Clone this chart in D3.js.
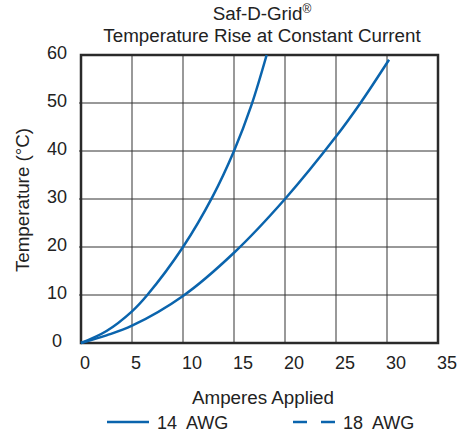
<!DOCTYPE html>
<html lang="en">
<head>
    <meta charset="UTF-8">
    <title>Saf-D-Grid Temperature Rise</title>
    <script src="https://d3js.org/d3.v7.min.js"></script>
    <style>
        body {
            margin: 0;
            background: #fff;
        }
        svg text {
            font-family: "Liberation Sans", Arial, sans-serif;
            fill: #222;
            white-space: pre;
        }
    </style>
</head>
<body>
<div id="chart"></div>
<script>
    // values
    const xTicks = [0, 5, 10, 15, 20, 25, 30, 35];
    const yTicks = [0, 10, 20, 30, 40, 50, 60];

    const awg14Amps = [0, 2.5, 5, 6.5, 10, 12.9, 15, 16.7, 18.2];
    const awg14Temp = [0, 2.5, 6.6, 10, 20, 30.5, 40, 49.5, 60];

    const awg18Amps = [0, 2.5, 5, 10, 15, 20, 25, 27.4, 30.2];
    const awg18Temp = [0, 1.6, 3.6, 9.8, 18.8, 30, 43, 50, 59];

    const seriesNames = ["14  AWG", "18  AWG"];

    const width = 459;
    const height = 435;
    const margin = {top: 55, right: 21, bottom: 92, left: 81};
    const blue = "#0a64ad";
    const fs = 18;
    const titleFs = 18.8;

    const svg = d3.select("#chart")
        .append("svg")
        .attr("width", width)
        .attr("height", height);

    const x = d3.scaleLinear().domain([0, 35]).range([margin.left, width - margin.right]);
    const y = d3.scaleLinear().domain([0, 60]).range([height - margin.bottom, margin.top]);

    // grid
    svg.append("g")
        .selectAll("line")
        .data(xTicks.slice(1, -1))
        .join("line")
        .attr("x1", d => x(d)).attr("x2", d => x(d))
        .attr("y1", y(0)).attr("y2", y(60))
        .attr("stroke", "#777")
        .attr("stroke-width", 1.5);

    svg.append("g")
        .selectAll("line")
        .data(yTicks.slice(1, -1))
        .join("line")
        .attr("x1", x(0) - 2).attr("x2", x(35))
        .attr("y1", d => y(d)).attr("y2", d => y(d))
        .attr("stroke", "#333")
        .attr("stroke-width", 1);

    // frame
    svg.append("rect")
        .attr("x", x(0)).attr("y", y(60))
        .attr("width", x(35) - x(0))
        .attr("height", y(0) - y(60))
        .attr("fill", "none")
        .attr("stroke", "#2a2a2a")
        .attr("stroke-width", 2.5);

    // tick labels
    svg.append("g")
        .selectAll("text")
        .data(yTicks)
        .join("text")
        .attr("x", 57)
        .attr("y", d => y(d) + 4)
        .attr("text-anchor", "middle")
        .attr("font-size", fs)
        .text(d => d);

    svg.append("g")
        .selectAll("text")
        .data(xTicks)
        .join("text")
        .attr("x", d => x(d) - 1)
        .attr("y", y(0) + 26)
        .attr("font-size", fs)
        .text(d => d);

    // curves
    const line = d3.line()
        .x(d => x(d[0]))
        .y(d => y(d[1]))
        .curve(d3.curveCatmullRom.alpha(0.5));

    const s14 = awg14Amps.map((a, i) => [a, awg14Temp[i]]);
    const s18 = awg18Amps.map((a, i) => [a, awg18Temp[i]]);

    [s14, s18].forEach(s => {
        svg.append("path")
            .datum(s)
            .attr("d", line)
            .attr("fill", "none")
            .attr("stroke", blue)
            .attr("stroke-width", 2.5);
    });

    // titles
    svg.append("text")
        .attr("x", 262).attr("y", 20)
        .attr("text-anchor", "middle")
        .attr("font-size", titleFs)
        .html("Saf-D-Grid<tspan dy='-7' font-size='12'>®</tspan>");

    svg.append("text")
        .attr("x", 262).attr("y", 42)
        .attr("text-anchor", "middle")
        .attr("font-size", titleFs)
        .text("Temperature Rise at Constant Current");

    svg.append("text")
        .attr("x", 263).attr("y", 404)
        .attr("text-anchor", "middle")
        .attr("font-size", titleFs)
        .text("Amperes Applied");

    svg.append("text")
        .attr("transform", "translate(29,200) rotate(-90)")
        .attr("text-anchor", "middle")
        .attr("font-size", titleFs)
        .text("Temperature (°C)");

    // legend
    const legend = svg.append("g");
    const legendX = [107, 293];
    seriesNames.forEach((name, i) => {
        legend.append("line")
            .attr("x1", legendX[i]).attr("x2", legendX[i] + 42)
            .attr("y1", 422).attr("y2", 422)
            .attr("stroke", blue)
            .attr("stroke-width", 2.5)
            .attr("stroke-dasharray", i === 1 ? "14,14" : null);
        legend.append("text")
            .attr("x", legendX[i] + 50)
            .attr("y", 429)
            .attr("font-size", fs)
            .text(name);
    });
</script>
</body>
</html>
